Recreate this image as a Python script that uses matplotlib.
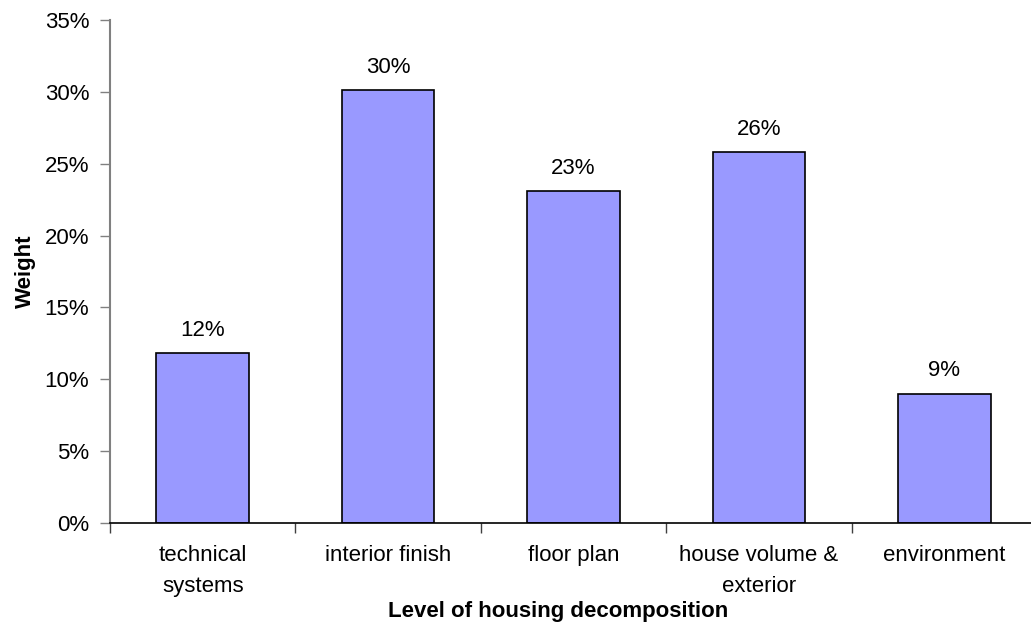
import matplotlib
matplotlib.use('Agg')
import matplotlib.pyplot as plt
import numpy as np
from matplotlib.ticker import PercentFormatter, FixedLocator

categories = ['technical\nsystems', 'interior finish', 'floor plan',
              'house volume &\nexterior', 'environment']
weights = [0.118, 0.301, 0.231, 0.258, 0.090]
yticks = [0, 0.05, 0.10, 0.15, 0.20, 0.25, 0.30, 0.35]

plt.rcParams['font.family'] = ['Liberation Sans', 'DejaVu Sans']

fig = plt.figure(figsize=(10.31, 6.39), dpi=100)
ax = fig.add_axes([110 / 1031, 116 / 639, 927 / 1031, 503 / 639])

x = np.arange(len(categories))
ax.bar(x, weights, width=0.5, color='#9999FF', edgecolor='black', linewidth=1.2, zorder=2)

for xi, w in zip(x, weights):
    ax.annotate(f"{w * 100:.0f}%", (xi, w), xytext=(0, 9), textcoords='offset points',
                ha='center', va='bottom', fontsize=16)

ax.set_xlim(-0.5, len(categories) - 0.5)
ax.set_ylim(0, 0.35)
ax.set_yticks(yticks)
ax.yaxis.set_major_formatter(PercentFormatter(1.0, decimals=0))

# boundaries as major ticks, labels on minor ticks
ax.xaxis.set_major_locator(FixedLocator(np.arange(-0.5, len(categories), 1.0)))
ax.xaxis.set_major_formatter(plt.NullFormatter())
ax.xaxis.set_minor_locator(FixedLocator(x))
ax.set_xticklabels(categories, minor=True, fontsize=16, linespacing=1.6)
ax.tick_params(axis='x', which='minor', length=0, pad=16)
ax.tick_params(axis='x', which='major', length=7, width=1, color='#404040', direction='out')
ax.tick_params(axis='y', length=7, width=1, color='#808080', labelsize=16, pad=8)

for s in ['top', 'right']:
    ax.spines[s].set_visible(False)
ax.spines['left'].set_color('#808080')
ax.spines['left'].set_linewidth(1.5)
ax.spines['bottom'].set_color('black')
ax.spines['bottom'].set_linewidth(1.2)

ax.set_ylabel('Weight', fontsize=16, fontweight='bold', labelpad=6)
fig.text(558 / 1031, 1 - 612 / 639, 'Level of housing decomposition', fontsize=16,
         fontweight='bold', ha='center', va='center')

fig.savefig('out.png', dpi=100, facecolor='white')
